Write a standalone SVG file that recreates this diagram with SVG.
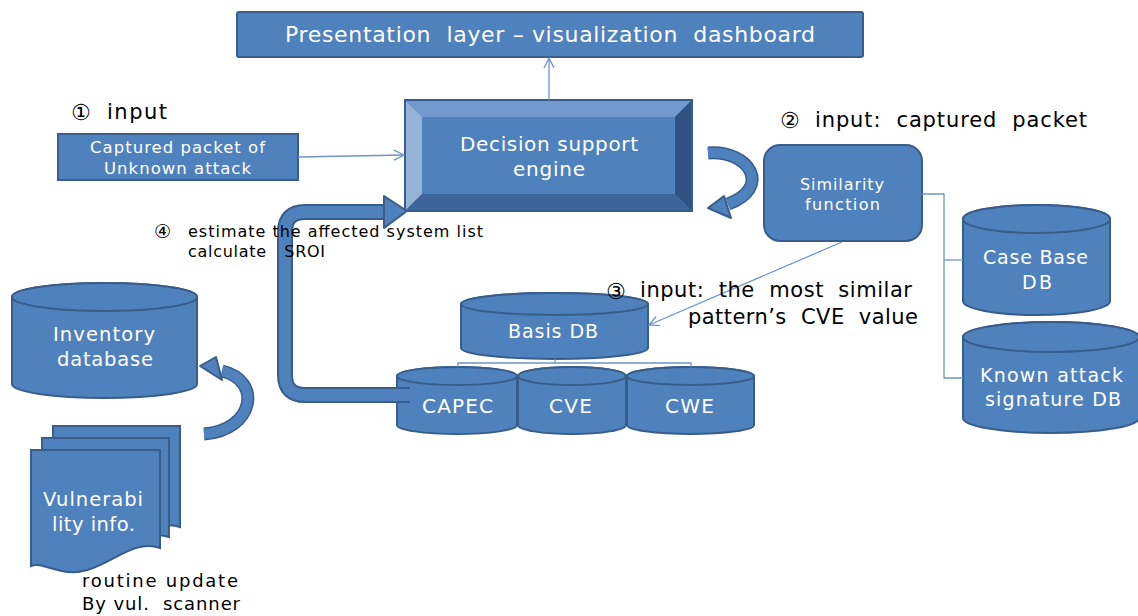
<svg xmlns="http://www.w3.org/2000/svg" width="1138" height="616" viewBox="0 0 1138 616">
<style>
.box{fill:#4f81bd;stroke:#385d8a;stroke-width:2}
.wt{fill:#ffffff;font-family:"DejaVu Sans","Open Sans",sans-serif;text-anchor:middle;white-space:pre}
.bk{fill:#000000;font-family:"DejaVu Sans","Open Sans",sans-serif;white-space:pre}
.num{fill:#000000;font-family:"DejaVu Sans",sans-serif}
.thin{fill:none;stroke:#6f94c8;stroke-width:1.3}
</style>
<defs>
<marker id="open" viewBox="0 0 12 12" refX="11" refY="6" markerWidth="12" markerHeight="12" markerUnits="userSpaceOnUse" orient="auto">
<path d="M1,1 L11,6 L1,11" fill="none" stroke="#6f94c8" stroke-width="1.3"/>
</marker>
</defs>
<rect width="1138" height="616" fill="#ffffff"/>

<g id="presentation">
<rect class="box" x="237" y="12" width="626" height="45" rx="2"/>
<text class="wt" x="550" y="42" font-size="22" textLength="530" lengthAdjust="spacing">Presentation  layer – visualization  dashboard</text>
</g>

<g id="engine">
<rect x="405" y="100" width="287" height="111" fill="#4f81bd" stroke="#385d8a" stroke-width="2"/>
<polygon points="405,100 692,100 675,117 422,117" fill="#7199cc"/>
<polygon points="405,100 422,117 422,194 405,211" fill="#95b3d7"/>
<polygon points="692,100 692,211 675,194 675,117" fill="#2f5282"/>
<polygon points="405,211 422,194 675,194 692,211" fill="#3d659a"/>
<rect x="405" y="100" width="287" height="111" fill="none" stroke="#385d8a" stroke-width="2"/>
<text class="wt" x="549" y="151" font-size="20" textLength="178" lengthAdjust="spacing">Decision support</text>
<text class="wt" x="549" y="176" font-size="20" textLength="72" lengthAdjust="spacing">engine</text>
</g>

<g id="captured">
<rect class="box" x="58" y="134" width="240" height="46"/>
<text class="wt" x="177.5" y="153" font-size="16.5" textLength="175" lengthAdjust="spacing">Captured packet of</text>
<text class="wt" x="177.5" y="174" font-size="16.5" textLength="147" lengthAdjust="spacing">Unknown attack</text>
</g>

<g id="similarity">
<rect class="box" x="764" y="145" width="158" height="96" rx="16"/>
<text class="wt" x="842" y="190" font-size="16" textLength="84" lengthAdjust="spacing">Similarity</text>
<text class="wt" x="842.5" y="210" font-size="16" textLength="75" lengthAdjust="spacing">function</text>
</g>

<g id="casebase">
<path class="box" d="M963,219 A73.5,14 0 0 1 1110,219 V301 A73.5,14 0 0 1 963,301 Z"/>
<ellipse class="box" cx="1036.5" cy="219" rx="73.5" ry="14"/>
<text class="wt" x="1035.5" y="264" font-size="19" textLength="105" lengthAdjust="spacing">Case Base</text>
<text class="wt" x="1037" y="289" font-size="19" textLength="30" lengthAdjust="spacing">DB</text>
</g>

<g id="knownattack">
<path class="box" d="M963,337 A88,15 0 0 1 1139,337 V418 A88,15 0 0 1 963,418 Z"/>
<ellipse class="box" cx="1051" cy="337" rx="88" ry="15"/>
<text class="wt" x="1051.5" y="382" font-size="19" textLength="143" lengthAdjust="spacing">Known attack</text>
<text class="wt" x="1053" y="406" font-size="19" textLength="136" lengthAdjust="spacing">signature DB</text>
</g>

<g id="basisdb">
<path class="box" d="M461,304 A93.5,11 0 0 1 648,304 V348 A93.5,11 0 0 1 461,348 Z"/>
<ellipse class="box" cx="554.5" cy="304" rx="93.5" ry="11"/>
<text class="wt" x="553" y="338" font-size="19" textLength="90" lengthAdjust="spacing">Basis DB</text>
</g>

<g id="capec">
<path class="box" d="M397,376 A60,9 0 0 1 517,376 V425 A60,9 0 0 1 397,425 Z"/>
<ellipse class="box" cx="457" cy="376" rx="60" ry="9"/>
</g>
<g id="cve">
<path class="box" d="M518,376 A54,9 0 0 1 626,376 V425 A54,9 0 0 1 518,425 Z"/>
<ellipse class="box" cx="572" cy="376" rx="54" ry="9"/>
<text class="wt" x="570.5" y="413" font-size="20" textLength="43" lengthAdjust="spacing">CVE</text>
</g>
<g id="cwe">
<path class="box" d="M627,376 A63.5,9 0 0 1 754,376 V425 A63.5,9 0 0 1 627,425 Z"/>
<ellipse class="box" cx="690.5" cy="376" rx="63.5" ry="9"/>
<text class="wt" x="689.5" y="413" font-size="20" textLength="49" lengthAdjust="spacing">CWE</text>
</g>

<g id="inventory">
<path class="box" d="M12,297 A92.5,14 0 0 1 197,297 V384 A92.5,14 0 0 1 12,384 Z"/>
<ellipse class="box" cx="104.5" cy="297" rx="92.5" ry="14"/>
<text class="wt" x="104" y="341" font-size="19.5" textLength="102" lengthAdjust="spacing">Inventory</text>
<text class="wt" x="105" y="366" font-size="19.5" textLength="96" lengthAdjust="spacing">database</text>
</g>

<g id="vulninfo">
<path class="box" d="M53,426 H180 V527 C150,517 125,555 90,545 C75,541 62,533 53,530 Z"/>
<path class="box" d="M42,438 H169 V537 C140,527 112,565 78,555 C62,551 52,543 42,540 Z"/>
<path class="box" d="M31,450 H160 V548 C128,536 100,580 62,571 C48,568 38,563 31,566 Z"/>
<text class="wt" x="93" y="506" font-size="19.5" textLength="100" lengthAdjust="spacing">Vulnerabi</text>
<text class="wt" x="93.5" y="531" font-size="19.5" textLength="83" lengthAdjust="spacing">lity info.</text>
</g>

<g id="connectors">
<line class="thin" x1="549" y1="100" x2="549" y2="58" marker-end="url(#open)"/>
<line class="thin" x1="298" y1="157" x2="404" y2="155" marker-end="url(#open)"/>
<line class="thin" x1="842" y1="242" x2="649" y2="325" marker-end="url(#open)"/>
<polyline class="thin" points="922,194 944,194 944,378 963,378"/>
<line class="thin" x1="944" y1="260" x2="963" y2="260"/>
<polyline class="thin" points="458,367 458,363 691,363 691,367"/>
<line class="thin" x1="555" y1="359" x2="555" y2="363"/>
<path d="M410,395 H305 Q285,395 285,375 V232 Q285,212 305,212 H386" fill="none" stroke="#385d8a" stroke-width="16"/>
<path d="M410,395 H305 Q285,395 285,375 V232 Q285,212 305,212 H388" fill="none" stroke="#4f81bd" stroke-width="12"/>
<polygon points="384,196 407,211 384,228" fill="#4f81bd" stroke="#385d8a" stroke-width="2" stroke-linejoin="round"/>
<path d="M708,153 C750,150 772,188 728,204" fill="none" stroke="#385d8a" stroke-width="13"/>
<path d="M708,153 C750,150 772,188 728,204" fill="none" stroke="#4f81bd" stroke-width="10"/>
<polygon points="708,208 724,196 731,218" fill="#4f81bd" stroke="#385d8a" stroke-width="2" stroke-linejoin="round"/>
<path d="M204,434 C255,430 262,380 222,371" fill="none" stroke="#385d8a" stroke-width="13"/>
<path d="M204,434 C255,430 262,380 222,371" fill="none" stroke="#4f81bd" stroke-width="10"/>
<polygon points="200,366 216,357 222,380" fill="#4f81bd" stroke="#385d8a" stroke-width="2" stroke-linejoin="round"/>
</g>

<g id="capec-label">
<text class="wt" x="457.5" y="413" font-size="20" textLength="71" lengthAdjust="spacing">CAPEC</text>
</g>

<g id="annotations">
<text class="num" x="71" y="120" font-size="22">①</text>
<text class="bk" x="107" y="119" font-size="21" textLength="60" lengthAdjust="spacing">input</text>
<text class="num" x="780" y="128" font-size="22">②</text>
<text class="bk" x="815" y="127" font-size="21" textLength="272" lengthAdjust="spacing">input:  captured  packet</text>
<text class="num" x="606" y="299" font-size="22">③</text>
<text class="bk" x="640" y="297" font-size="21" textLength="272" lengthAdjust="spacing">input:  the  most  similar</text>
<text class="bk" x="688" y="324" font-size="21" textLength="230" lengthAdjust="spacing">pattern’s  CVE  value</text>
<text class="num" x="154" y="238" font-size="19">④</text>
<text class="bk" x="188" y="237" font-size="16" textLength="295" lengthAdjust="spacing">estimate the affected system list</text>
<text class="bk" x="188" y="257" font-size="16" textLength="137" lengthAdjust="spacing">calculate   SROI</text>
<text class="bk" x="82" y="587" font-size="18" textLength="156" lengthAdjust="spacing">routine update</text>
<text class="bk" x="82" y="610" font-size="18" textLength="158" lengthAdjust="spacing">By vul.  scanner</text>
</g>
</svg>
